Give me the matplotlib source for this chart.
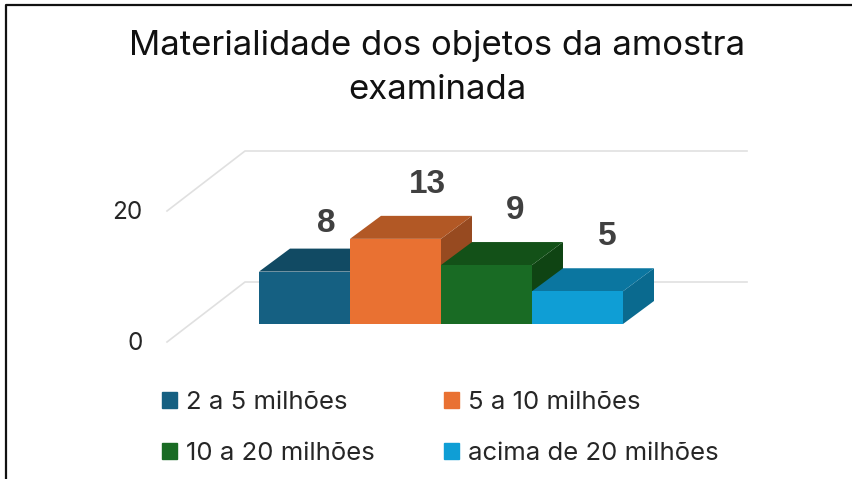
import matplotlib
matplotlib.use('Agg')
import matplotlib.pyplot as plt
from matplotlib.patches import Patch, Polygon

# =========================
# Data
# =========================
categories = ['2 a 5 milhões', '5 a 10 milhões', '10 a 20 milhões', 'acima de 20 milhões']
values = [8, 13, 9, 5]
y_ticks = [0, 20]
title = 'Materialidade dos objetos da amostra\nexaminada'

# =========================
# Style
# =========================
W, H = 853, 479
FRONT = ['#156082', '#E97132', '#196B24', '#0F9ED5']
TOP = ['#114A63', '#B25825', '#135118', '#0B76A0']
SIDE = ['#0E3F55', '#974A20', '#0F4413', '#0A6A8F']
GRID = '#E0E0E0'

PX_X = 91.0    # pixels per category
PX_Y = 6.55    # pixels per value unit
X0 = 259.0     # pixel of left edge of first bar
Y0 = 324.0     # pixel of bar base
DX = 31 / PX_X   # bar depth
DY = 23 / PX_Y
WALL_X = (245 - X0) / PX_X
WALL_END = (747 - X0) / PX_X
WALL_Y = (Y0 - 282) / PX_Y
FLOOR_DX = 78 / PX_X
FLOOR_DY = 60 / PX_Y
LABEL_DX = [0.24, 0.35, 0.31, 0.33]
LABEL_DY = [7.35, 8.35, 8.35, 8.35]

fig = plt.figure(figsize=(W / 100, H / 100), dpi=100)
ax = fig.add_axes([0, 0, 1, 1])
ax.set_xlim(-X0 / PX_X, (W - X0) / PX_X)
ax.set_ylim(-(H - Y0) / PX_Y, Y0 / PX_Y)
ax.axis('off')

# frame of the screenshot
fig.add_artist(plt.Line2D([6 / W, 6 / W, 1], [0, 1 - 4.5 / H, 1 - 4.5 / H], color='#111111', lw=1.6))

# grid on the walls
for tick in y_ticks:
    y = WALL_Y + tick
    ax.plot([WALL_X - FLOOR_DX, WALL_X, WALL_END], [y - FLOOR_DY, y, y], color=GRID, lw=1.2, zorder=1)
    ax.text(WALL_X - FLOOR_DX - 0.27, y - FLOOR_DY - 0.2, str(tick), fontsize=17.5, family='Inter',
            color='#262626', ha='right', va='center')

# bars, left to right so each one covers the one behind
for i, v in enumerate(values):
    ax.add_patch(Polygon([(i + 1, 0), (i + 1 + DX, DY), (i + 1 + DX, v + DY), (i + 1, v)], color=SIDE[i], lw=0, zorder=2))
    ax.add_patch(Polygon([(i, v), (i + DX, v + DY), (i + 1 + DX, v + DY), (i + 1, v)], color=TOP[i], lw=0, zorder=2))
    ax.add_patch(Polygon([(i, 0), (i + 1, 0), (i + 1, v), (i, v)], color=FRONT[i], lw=0, zorder=2))
    ax.text(i + 0.5 + LABEL_DX[i], v + LABEL_DY[i], str(v), fontsize=24, family='Liberation Sans',
            fontweight='bold', color='#404040', ha='center', va='center', zorder=3)

ax.text((437 - X0) / PX_X, (Y0 - 68) / PX_Y, title, fontsize=25, family='Inter', color='#111111',
        ha='center', va='center', linespacing=1.5)

# legend fills by column, the reference reads by row
order = [0, 2, 1, 3]
handles = [Patch(color=FRONT[i]) for i in order]
labels = [categories[i] for i in order]
ax.legend(handles, labels, ncol=2, frameon=False, loc='center left', borderaxespad=0, borderpad=0,
          bbox_to_anchor=(162 / W, 1 - 428 / H), prop={'family': 'Inter', 'size': 18.5},
          labelcolor='#262626', handlelength=0.58, handleheight=0.58, handletextpad=0.35,
          columnspacing=2.7, labelspacing=1.07)

plt.savefig('out.png', dpi=100)
